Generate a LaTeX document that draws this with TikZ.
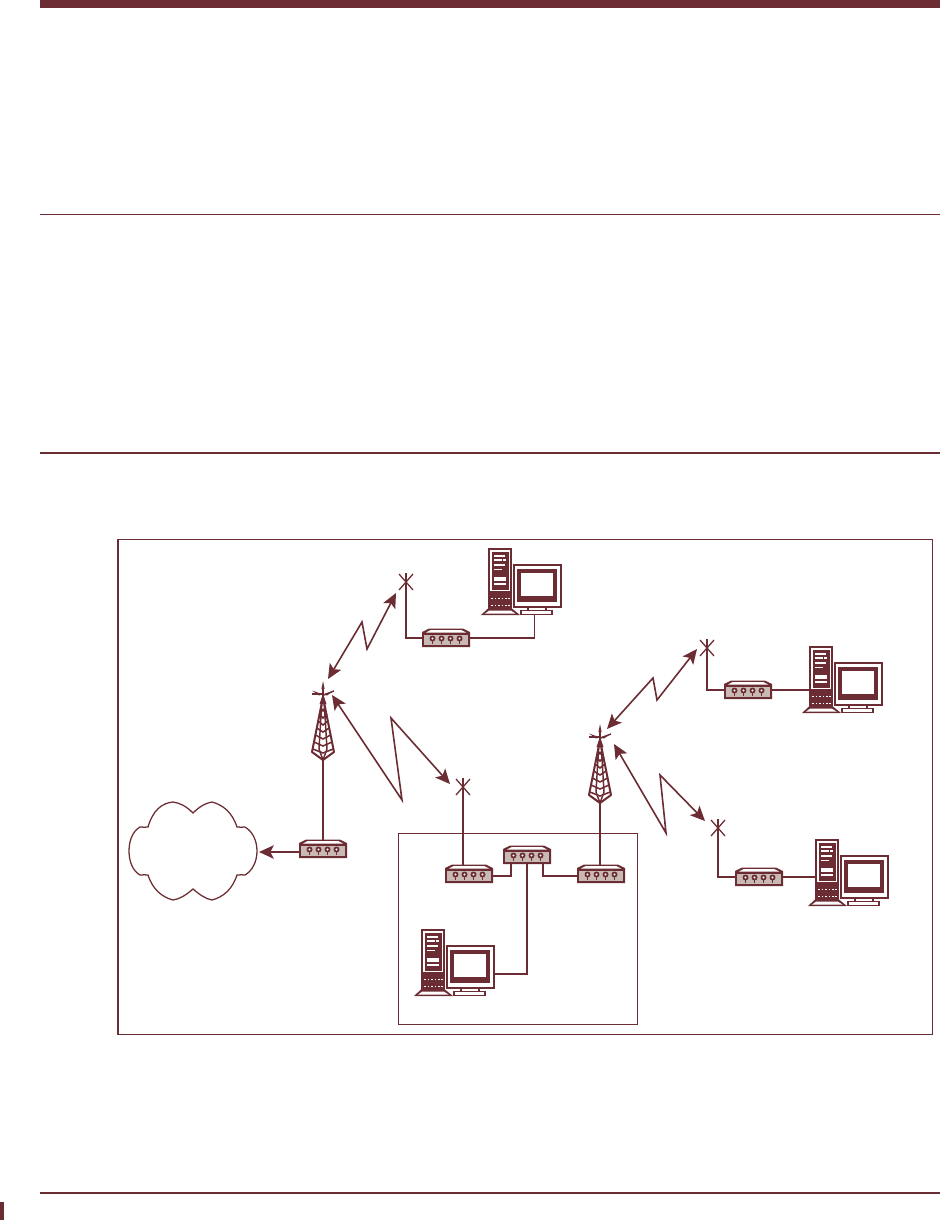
\documentclass[tikz,border=0pt]{standalone}
\usetikzlibrary{arrows.meta}
\definecolor{ink}{HTML}{6B2D33}
\definecolor{fillr}{HTML}{C9B9B5}
\tikzset{
  x=0.75pt,y=-0.75pt,
  wire/.style={draw=ink,line width=0.95pt,line join=miter},
  hubwire/.style={draw=ink,line width=1.4pt,line join=miter},
  link/.style={draw=ink,line width=1.2pt,line join=miter,{Stealth[length=11pt,width=10pt,inset=2.5pt]}-{Stealth[length=11pt,width=10pt,inset=2.5pt]}},
  frame/.style={draw=ink,line width=1.15pt,inner sep=0pt,outer sep=0pt},
  routerbox/.style={inner sep=0pt,outer sep=0pt,minimum width=35.25pt,minimum height=13.5pt},
  pcbox/.style={inner sep=0pt,outer sep=0pt,minimum width=60.75pt,minimum height=50.25pt},
  towerbox/.style={inner sep=0pt,outer sep=0pt,minimum width=16.5pt,minimum height=47.25pt},
  antbox/.style={inner sep=0pt,outer sep=0pt,minimum size=0pt},
  cloudbox/.style={inner sep=0pt,outer sep=0pt,minimum width=99pt,minimum height=73.5pt},
  router/.pic={
    \fill[ink] (-24,-6) -- (-17,-9.5) -- (17,-9.5) -- (24,-6) -- (24,9) -- (-24,9) -- cycle;
    \fill[white] (-15.5,-7.8) -- (15.5,-7.8) -- (20,-5.5) -- (-20,-5.5) -- cycle;
    \fill[fillr] (-22,-3.5) rectangle (22,7);
    \foreach \a in {-13.5,-4.5,4.5,13.5}{
      \fill[ink] (\a,0.5) circle (3);
      \fill[white] (\a,0.5) circle (1.2);
      \draw[ink,line width=0.8pt] (\a,2) -- (\a,5.5);
    }
  },
  pcset/.pic={
    \fill[ink] (7,-67) rectangle (31,-5);
    \fill[white] (8.6,-65.4) rectangle (29.4,-24);
    \fill[ink] (10.5,-63.5) rectangle (27.5,-25);
    \fill[white] (13,-60) rectangle (24,-58.5);
    \fill[white] (13,-56) rectangle (21,-54.5);
    \fill[white] (22,-56) rectangle (25,-54.5);
    \fill[white] (13,-51.5) rectangle (24,-49.5);
    \fill[white] (13,-46.5) rectangle (21,-45);
    \fill[white] (13,-38) rectangle (25,-34.5);
    \fill[white] (13,-32) rectangle (25,-30);
    \foreach \yy in {-17,-10.5}{
      \foreach \xx in {10,13.5,17,20.5,24,27}{\fill[white] (\xx,\yy) rectangle +(1.6,1.4);}
    }
    \fill[ink] (7,-6.5) -- (31,-6.5) -- (39,0) -- (0,0) -- cycle;
    \fill[white] (8,-4.3) -- (30,-4.3) -- (34.5,-1.4) -- (4,-1.4) -- cycle;
    \fill[ink] (32,-51) rectangle (81,-7);
    \fill[white] (33.6,-49.4) rectangle (79.4,-8.6);
    \fill[ink] (36,-46) rectangle (76,-13);
    \fill[white] (40,-42) rectangle (72,-19.5);
    \fill[ink] (46,-8) rectangle (66,-5);
    \fill[white] (48,-7) rectangle (64,-5);
    \fill[ink] (39,-5) rectangle (72,0);
    \fill[white] (41,-3.6) rectangle (70,-1.4);
  },
  towerpic/.pic={
    \draw[ink,line width=1.5pt,line join=round] (0,0) -- (-11,55) -- (0,63) -- (11,55) -- cycle;
    \draw[ink,line width=1.1pt] (-1,2) -- (-4,52) -- (0,63) -- (4,52) -- (1,2);
    \foreach \yy/\hw in {10/2.4,17/3.8,24/5,31/6.3,38/7.6,45/9,52/10.2}{
      \draw[ink,line width=1.15pt] (-\hw,\yy) -- (0,\yy+4) -- (\hw,\yy);
    }
    \fill[ink] (0,-3) -- (3.5,7) -- (-3.5,7) -- cycle;
    \draw[ink,line width=1.1pt] (0,0) -- (0,-12);
    \fill[ink] (0,-16) -- (1.6,-8) -- (-1.6,-8) -- cycle;
    \fill[ink] (-11,-6.5) -- (-1,-3) -- (-4,-1.5) -- cycle;
    \draw[ink,line width=1pt] (-11,-3) -- (-1,-3);
    \fill[ink] (11,-6.5) -- (1,-3) -- (4,-1.5) -- cycle;
    \draw[ink,line width=1pt] (11,-6) -- (1,-2);
  },
  antpic/.pic={
    \draw[wire] (-7,-8) -- (7,8) (7,-8) -- (-7,8);
    \draw[wire] (0,-9) -- (0,0);
  },
}
\begin{document}
\begin{tikzpicture}
\useasboundingbox (0,0) rectangle (940,1220);
% page furniture
\fill[ink] (40,0) rectangle (940,8);
\fill[ink] (40,214) rectangle (940,215);
\fill[ink] (40,452) rectangle (940,454);
\fill[ink] (40,1192) rectangle (940,1194);
\fill[ink] (0,1202) rectangle (4,1220);
% frames
\node[frame,minimum width=610.9pt,minimum height=371pt] (outer) at (525,787) {};
\node[frame,minimum width=179pt,minimum height=143pt] (lan) at (518,929) {};
% node anchors
\node[routerbox] (r1) at (446,638) {};
\node[routerbox] (r2) at (748,690) {};
\node[routerbox] (r3) at (759,877) {};
\node[routerbox] (r4) at (323,849) {};
\node[routerbox] (r5) at (469,874) {};
\node[routerbox] (r6) at (527,855) {};
\node[routerbox] (r7) at (601,874) {};
\node[pcbox] (p1) at (521.5,581.5) {};
\node[pcbox] (p2) at (842.5,679.5) {};
\node[pcbox] (p3) at (848.5,872.5) {};
\node[pcbox] (p4) at (454.5,962.5) {};
\node[towerbox] (t1) at (323,728.5) {};
\node[towerbox] (t2) at (600,771.5) {};
\node[antbox] (a1) at (406,582) {};
\node[antbox] (a2) at (707,648) {};
\node[antbox] (a3) at (463,787) {};
\node[antbox] (a4) at (718,828) {};
\node[cloudbox] (cloud) at (193,851) {};
% wires
\draw[wire] (a1.center) |- (r1.west);
\draw[wire] (a2.center) |- (r2.west);
\draw[wire] (a3.center) -- (a3.center |- r5.north);
\draw[wire] (a4.center) |- (r3.west);
\draw[wire] (t1.south) -- (r4.north);
\draw[wire] (t2.south) -- (t2.south |- r7.north);
\draw[wire] (r1.east) -| ([xshift=10pt]p1.south);
\draw[wire] (r2.east) -- ([xshift=6pt]p2.west |- r2.east);
\draw[wire] (r3.east) -- ([xshift=6pt]p3.west |- r3.east);
\draw[hubwire] ([yshift=-1.5pt]r5.east) -| ([xshift=-12pt]r6.south);
\draw[hubwire] ([yshift=-1.5pt]r7.west) -| ([xshift=12pt]r6.south);
\draw[hubwire] ([yshift=-8.6pt]p4.east) -| (r6.south);
% devices
\foreach \n in {r1,r2,r3,r4,r5,r6,r7}{\pic at (\n) {router};}
\foreach \n in {p1,p2,p3,p4}{\pic at (\n.south west) {pcset};}
\foreach \n in {t1,t2}{\pic at (\n.north) {towerpic};}
\foreach \n in {a1,a2,a3,a4}{\pic at (\n) {antpic};}
% cloud
\draw[wire] (193,813) .. controls (186,806) and (180,803) .. (173,802)
 .. controls (162,803) and (153,810) .. (148,827) .. controls (146,827.5) and (143,827) .. (140,827)
 .. controls (133,831) and (129,840) .. (129,851) .. controls (129,862) and (133,871) .. (140,875)
 .. controls (143,875) and (146,874.5) .. (148,875) .. controls (153,890) and (162,897) .. (173,900)
 .. controls (180,899) and (186,895) .. (193,889) .. controls (200,895) and (206,899) .. (212,900)
 .. controls (223,897) and (232,890) .. (237,875) .. controls (240,874.5) and (243,875) .. (245,875)
 .. controls (252,871) and (257,862) .. (257,851) .. controls (257,840) and (252,831) .. (245,827)
 .. controls (243,827) and (240,827.5) .. (237,827) .. controls (232,812) and (223,805) .. (212,802)
 .. controls (206,803) and (200,806) .. (193,813) -- cycle;
\coordinate (r4w) at ([yshift=-2.25pt]r4.west);
\draw[draw=ink,line width=1.5pt,-{Stealth[length=11pt,width=10pt,inset=2.5pt]}] (r4w) -- (cloud.east |- r4w);
% radio links
\coordinate (k1a) at (328,679); \coordinate (k1b) at (362,622); \coordinate (k1c) at (367,649); \coordinate (k1d) at (396,593);
\coordinate (k2a) at (332,695); \coordinate (k2b) at (402,800); \coordinate (k2c) at (391,718); \coordinate (k2d) at (450,784);
\coordinate (k3a) at (607,729); \coordinate (k3b) at (653,678); \coordinate (k3c) at (657,700); \coordinate (k3d) at (697,649);
\coordinate (k4a) at (614,744); \coordinate (k4b) at (666,833); \coordinate (k4c) at (660,775); \coordinate (k4d) at (705,821);
\draw[link] (k1a) -- (k1b) -- (k1c) -- (k1d);
\draw[link] (k2a) -- (k2b) -- (k2c) -- (k2d);
\draw[link] (k3a) -- (k3b) -- (k3c) -- (k3d);
\draw[link] (k4a) -- (k4b) -- (k4c) -- (k4d);
\end{tikzpicture}
\end{document}
